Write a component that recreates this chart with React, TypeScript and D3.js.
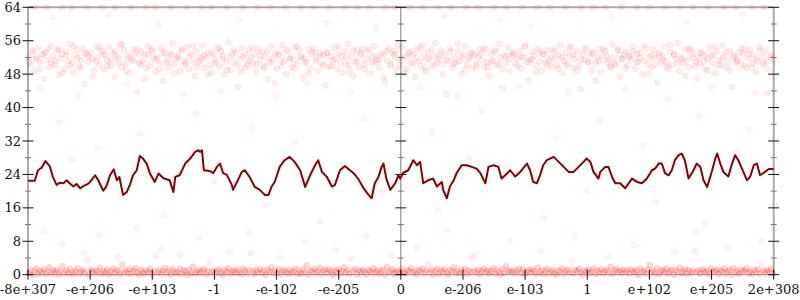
import React from "react";
import * as d3 from "d3";

// x-axis tick labels (symmetric float-bit scale), positions -6..6
const tickLabels = ["-8e+307", "-e+206", "-e+103", "-1", "-e-102", "-e-205", "0", "e-206", "e-103", "1", "e+102", "e+205", "2e+308"];
const tickPos = [-6, -5, -4, -3, -2, -1, 0, 1, 2, 3, 4, 5, 6];
const yMajor = [0, 8, 16, 24, 32, 40, 48, 56, 64];
const yMinor = [4, 12, 20, 28, 36, 44, 52, 60];

// moving average line: [position, value]
const avgLine: [number, number][] = [
  [-6.0, 22.5], [-5.89, 22.5], [-5.84, 25], [-5.78, 25.6], [-5.72, 27.2], [-5.65, 26], [-5.6, 23.4], [-5.54, 21.5], [-5.49, 22], [-5.43, 21.9], [-5.38, 22.6],
  [-5.33, 21.9], [-5.27, 21.1], [-5.22, 21.7], [-5.16, 20.7], [-5.11, 21.2], [-5.05, 21.6], [-5.0, 22.2], [-4.92, 23.8], [-4.87, 22.6], [-4.79, 20.1], [-4.74, 21.1],
  [-4.68, 23.8], [-4.62, 25.2], [-4.57, 22.6], [-4.53, 23.4], [-4.47, 19.1], [-4.41, 19.8], [-4.36, 21.5], [-4.31, 23.8], [-4.25, 25], [-4.2, 28.4],
  [-4.15, 27.8], [-4.09, 26.6], [-4.04, 24.3], [-3.96, 22.2], [-3.9, 24.2], [-3.82, 23.1], [-3.72, 22.6], [-3.66, 19.8], [-3.63, 23.4], [-3.56, 23.8],
  [-3.47, 26.6], [-3.39, 27.8], [-3.31, 29.4], [-3.26, 29.8], [-3.23, 29.4], [-3.2, 29.8], [-3.17, 25], [-3.07, 24.8], [-3.02, 24.3], [-2.96, 25.8],
  [-2.91, 26.6], [-2.86, 24.3], [-2.8, 23.9], [-2.72, 21.5], [-2.7, 20.3], [-2.62, 22.7], [-2.56, 24.6], [-2.51, 25], [-2.43, 23.3], [-2.35, 21],
  [-2.27, 20.3], [-2.19, 19.1], [-2.13, 19.1], [-2.08, 21.1], [-2.03, 22.2], [-1.95, 25.8], [-1.87, 27.4], [-1.79, 28.2], [-1.71, 27], [-1.62, 25],
  [-1.54, 21], [-1.46, 23.8], [-1.38, 26.2], [-1.33, 27.4], [-1.27, 24.6], [-1.19, 23.4], [-1.11, 21.1], [-1.06, 21.5], [-0.98, 25], [-0.9, 26],
  [-0.82, 25], [-0.76, 24.3], [-0.68, 22.8], [-0.6, 20.7], [-0.52, 19.1], [-0.47, 18.3], [-0.42, 21.9], [-0.36, 23.4], [-0.31, 25.8], [-0.28, 26.6],
  [-0.23, 22.8], [-0.17, 20.3], [-0.09, 21.9], [-0.04, 23.8], [-0.01, 23], [0.04, 24.4], [0.12, 25], [0.2, 27.4], [0.26, 26.2], [0.31, 27],
  [0.36, 21.9], [0.44, 22.6], [0.52, 23], [0.58, 21.1], [0.66, 22.2], [0.68, 20.3], [0.74, 18.3], [0.79, 21.1], [0.85, 22.6], [0.9, 24.4],
  [0.98, 26.2], [1.06, 26.2], [1.14, 25.8], [1.22, 25.4], [1.28, 24.3], [1.36, 21.9], [1.41, 25.8], [1.49, 26.2], [1.57, 25.8], [1.62, 23],
  [1.68, 23.8], [1.76, 25], [1.84, 23.5], [1.92, 24.6], [2.03, 26.6], [2.08, 25], [2.13, 22.2], [2.19, 21.9], [2.24, 23.8], [2.29, 26.2],
  [2.35, 27.4], [2.46, 28.2], [2.54, 27], [2.62, 25.8], [2.7, 24.6], [2.78, 24.6], [2.86, 25.8], [2.94, 27], [2.99, 27.8], [3.05, 27],
  [3.1, 24.6], [3.18, 23], [3.21, 24.6], [3.29, 25.8], [3.34, 25.8], [3.4, 23.4], [3.45, 21.9], [3.53, 21.9], [3.61, 20.7], [3.72, 23],
  [3.8, 22.2], [3.88, 21.9], [3.96, 23], [4.04, 25], [4.09, 25.4], [4.15, 26.6], [4.2, 26.6], [4.25, 24.3], [4.31, 23.8], [4.36, 25],
  [4.41, 27.4], [4.47, 28.6], [4.52, 29], [4.57, 27.4], [4.63, 23], [4.71, 25], [4.76, 26.6], [4.82, 25.8], [4.87, 22.6], [4.93, 21],
  [5.01, 25], [5.06, 27.8], [5.09, 29], [5.14, 26.6], [5.19, 24.6], [5.27, 23.5], [5.33, 26.6], [5.38, 28.6], [5.43, 27.4], [5.49, 25.4],
  [5.57, 22.6], [5.62, 23.4], [5.68, 26.2], [5.73, 26.6], [5.78, 23.8], [5.86, 24.6], [5.92, 25.3], [6.0, 25.3],
];

// dense cluster near 52 (spread evenly along x)
const upperBand = [
  52.1,50.4,53.6,48.7,51.9,54.3,50.8,52.7,46.9,53.2,51.4,49.6,54.8,52.3,50.2,53.9,47.8,51.6,52.9,49.3,
  53.4,51.1,55.2,50.6,48.4,52.5,53.8,49.9,51.3,54.1,45.6,52.8,50.9,53.1,51.7,48.9,54.6,52.0,50.3,53.5,
  49.1,52.6,51.2,54.4,50.0,53.0,47.2,52.2,51.8,55.1,49.7,53.7,50.5,52.4,48.1,51.5,54.0,52.9,43.8,50.7,
  53.3,51.0,52.7,49.4,54.7,50.1,53.6,51.9,48.6,52.1,50.8,54.2,46.3,53.0,51.4,49.8,52.5,55.4,50.4,51.7,
  52.3,48.8,53.9,51.2,50.6,54.5,49.2,52.8,51.1,47.5,53.4,50.9,52.0,54.9,49.5,51.8,53.2,50.2,48.3,52.6,
  51.3,54.1,50.0,53.5,52.4,47.9,51.0,55.6,49.0,52.9,50.7,53.1,44.9,51.6,54.3,52.2,49.6,50.3,53.8,51.9,
  50.5,52.7,48.5,54.0,51.4,53.3,49.9,52.1,46.7,50.8,54.8,51.7,53.0,49.3,52.5,50.1,55.0,51.2,48.0,53.6,
  52.0,49.7,51.5,54.6,50.4,53.7,52.3,47.1,51.8,50.9,53.9,49.4,52.8,54.2,51.1,48.8,53.2,50.6,52.6,45.3,
  53.1,50.0,52.4,51.3,54.4,49.1,52.9,50.7,48.4,53.5,51.9,55.3,50.2,52.2,47.6,51.0,53.8,49.8,52.7,54.0,
  50.3,51.6,53.4,48.2,52.0,54.7,50.8,51.4,49.5,53.0,52.5,46.1,51.2,54.1,50.5,52.8,53.6,49.0,51.7,50.1,
  54.5,52.3,49.2,51.9,53.3,50.6,52.6,47.3,53.9,51.0,50.0,54.9,52.1,48.7,53.2,51.5,49.9,52.4,55.5,50.9,
  51.8,53.7,50.4,52.9,43.2,51.3,54.2,49.6,52.0,50.7,53.5,51.1,48.1,52.7,54.6,50.2,51.6,53.0,49.4,52.5,
  50.0,52.2,54.0,51.4,49.7,53.8,50.8,47.7,52.8,51.2,53.4,50.3,55.2,51.9,49.1,52.3,50.6,54.4,48.6,53.1,
  52.6,50.5,51.7,53.6,49.3,52.1,54.8,50.9,46.5,51.5,53.3,52.4,50.1,54.1,51.0,48.9,52.9,50.7,53.7,51.3,
  49.8,53.9,51.8,50.2,52.5,55.0,48.3,51.1,53.0,50.4,52.2,54.5,49.5,51.6,53.5,50.0,44.4,52.7,51.4,54.3,
  51.0,52.8,49.0,53.2,50.6,51.9,54.0,48.5,52.3,53.6,50.8,51.3,49.9,55.1,52.0,50.3,53.8,47.4,51.7,52.6,
  53.4,50.1,52.4,51.5,54.7,49.2,52.9,50.9,53.1,48.0,51.2,54.2,50.5,52.1,49.6,53.7,51.8,46.0,52.5,50.7,
  52.2,54.6,51.0,49.4,53.3,50.2,52.7,51.6,55.4,48.8,52.0,50.6,53.9,51.3,49.7,54.1,52.8,50.0,47.0,51.9,
  50.4,53.0,52.3,49.1,51.7,54.4,50.8,52.6,48.2,53.5,51.4,50.1,54.8,52.4,49.8,51.1,53.6,45.0,52.1,50.9,
  51.5,53.2,50.3,52.9,54.0,49.5,51.8,53.8,50.6,52.5,48.6,51.0,54.5,52.2,50.0,53.4,51.3,49.0,52.7,51.6,
];

// second pass of the cluster near 52 (spread evenly along x)
const upperBand2 = [
  50.9,53.3,51.6,49.2,52.8,54.1,50.5,51.2,53.7,48.3,52.4,50.1,54.6,51.8,49.5,53.0,52.2,47.4,51.0,54.4,
  52.7,49.9,51.4,53.5,50.6,55.1,48.9,52.0,51.1,53.8,50.2,46.8,52.6,54.0,51.5,49.3,53.2,50.8,52.9,48.1,
  51.9,53.6,50.3,52.3,54.8,49.7,51.3,52.5,47.9,53.1,50.7,54.3,51.7,49.0,52.1,53.9,50.0,48.6,52.8,51.2,
  54.2,50.4,52.5,49.6,53.4,51.0,45.9,52.7,50.9,53.8,51.6,49.4,54.5,52.0,50.6,48.2,53.3,51.8,52.4,50.1,
  53.0,49.8,51.5,54.7,52.2,50.3,48.7,53.6,51.1,52.9,49.2,54.0,50.7,52.3,51.4,47.2,53.5,50.0,52.6,54.9,
  51.2,48.4,53.1,50.8,52.0,54.4,49.5,51.7,53.9,50.2,52.5,48.0,51.3,53.4,50.5,55.3,52.1,49.1,51.9,53.2,
  50.6,52.8,54.1,49.7,51.0,53.7,50.4,44.6,52.4,51.6,53.0,49.9,52.2,54.6,50.9,51.5,48.5,53.3,52.7,50.3,
  52.0,53.5,49.3,51.8,50.1,54.3,52.6,48.8,51.4,53.8,50.7,52.9,46.4,51.1,54.0,52.3,49.6,50.5,53.6,51.7,
  49.4,52.1,53.4,50.8,51.9,54.8,48.1,52.5,50.2,53.1,51.3,49.8,55.0,52.7,50.6,51.6,47.6,53.9,52.0,50.9,
  53.2,51.0,49.0,52.4,54.5,50.3,51.8,53.3,48.9,52.6,51.2,54.2,50.0,52.8,49.5,51.5,53.7,50.7,43.5,52.2,
];

// dense cluster near 0 (spread evenly along x)
const lowerBand = [
  0.4,1.1,0.0,0.8,1.5,0.2,0.9,0.6,1.3,0.1,0.7,1.8,0.3,1.0,0.5,1.2,0.0,0.8,2.1,0.4,
  1.0,0.3,1.4,0.6,0.1,0.9,1.6,0.2,0.7,1.1,0.5,3.4,0.0,1.3,0.8,0.4,1.0,0.6,1.7,0.2,
  0.9,0.5,1.2,0.0,0.7,1.5,0.3,1.1,0.8,0.1,2.4,0.6,1.0,0.4,1.3,0.2,0.9,1.6,0.5,0.0,
  1.2,0.7,0.3,1.0,0.6,1.4,0.1,0.8,4.6,0.5,1.1,0.2,0.9,1.7,0.4,1.0,0.0,1.3,0.7,0.3,
  0.6,1.5,0.2,1.0,0.8,0.0,1.2,0.5,1.9,0.3,0.7,1.1,0.4,0.9,1.4,0.1,0.8,2.8,0.6,1.0,
  0.3,0.9,1.3,0.5,0.0,1.1,0.7,1.6,0.2,0.8,1.0,0.4,1.2,0.6,0.1,1.5,0.9,0.3,1.1,5.2,
  0.8,0.2,1.0,0.6,1.4,0.4,0.9,0.0,1.2,0.7,1.8,0.3,1.0,0.5,1.3,0.1,0.8,1.1,0.6,0.2,
  1.1,0.5,0.8,1.5,0.1,0.9,0.3,1.2,0.6,2.2,0.0,1.0,0.7,1.4,0.4,0.8,1.6,0.2,0.9,1.3,
  0.4,1.2,0.7,0.0,1.0,0.6,1.3,0.2,0.9,1.7,0.5,1.1,0.3,3.9,0.8,1.4,0.1,1.0,0.6,1.2,
  0.7,0.1,1.1,0.9,0.4,1.5,0.6,1.0,0.3,0.8,1.2,0.0,1.9,0.5,0.9,1.3,0.2,0.7,1.0,0.4,
  1.3,0.6,0.2,1.0,0.8,1.6,0.4,0.9,0.1,1.1,0.7,1.4,0.3,1.0,2.6,0.5,1.2,0.0,0.8,1.5,
  0.2,1.0,0.7,1.3,0.5,0.0,1.1,0.8,1.8,0.4,0.9,0.3,1.2,0.6,1.5,0.1,1.0,0.7,4.1,0.9,
  0.5,1.2,0.1,0.8,1.4,0.6,1.0,0.3,0.9,1.6,0.2,1.1,0.7,0.0,1.3,0.4,2.0,0.8,1.0,0.6,
  1.0,0.3,0.9,1.5,0.4,1.2,0.0,0.7,1.1,0.5,1.3,0.8,0.2,1.7,0.6,1.0,0.1,0.9,1.4,0.3,
  0.8,1.1,0.4,0.0,1.0,0.7,1.5,0.2,0.9,1.2,0.6,3.1,0.3,1.1,0.8,1.4,0.5,0.0,1.0,0.7,
  1.2,0.4,0.9,1.6,0.1,1.0,0.6,1.3,0.3,0.8,1.1,0.5,1.9,0.2,0.9,1.4,0.7,1.0,0.4,1.2,
  0.6,1.0,0.2,1.3,0.8,0.5,1.1,0.0,1.5,0.7,0.9,0.3,1.2,2.3,0.6,1.0,0.4,1.6,0.1,0.8,
  1.1,0.7,1.4,0.3,0.9,1.2,0.0,1.0,0.6,1.7,0.4,0.8,1.3,0.2,1.1,0.5,0.9,5.7,0.7,1.0,
  0.3,1.3,0.8,0.5,1.0,0.1,1.4,0.6,0.9,1.2,0.2,1.0,0.7,1.5,0.4,0.8,1.1,0.0,1.6,0.6,
  0.9,0.2,1.2,0.7,1.0,1.5,0.4,0.8,0.1,1.1,0.6,1.3,0.3,2.7,0.9,0.5,1.0,0.7,1.4,0.2,
];

// points sitting at the 64 ceiling (positions)
const topRow = [
  -5.9,-5.7,-5.45,-5.3,-5.05,-4.8,-4.6,-4.35,-4.1,-3.95,-3.7,-3.45,-3.2,-3.05,-2.8,-2.55,-2.3,-2.1,-1.85,-1.6,
  -1.4,-1.15,-0.9,-0.7,-0.5,-0.25,-0.1,0.15,0.35,0.6,0.8,1.05,1.25,1.5,1.7,1.95,2.2,2.4,2.65,2.9,3.1,3.3,3.55,
  3.8,4.0,4.25,4.5,4.7,4.95,5.2,5.4,5.65,5.85,
];

// sparse scattered points [position, value]
const scatter: [number, number][] = [
  [-5.6,61.5],[-4.7,62.2],[-3.9,59.8],[-2.6,61.0],[-1.2,60.3],[0.7,62.0],[2.1,59.5],[3.4,61.8],[4.6,60.6],[5.5,62.4],[-0.4,58.9],[1.6,60.9],
  [-5.8,44.6],[-5.2,42.8],[-4.4,45.5],[-3.5,43.2],[-2.9,44.1],[-2.0,42.3],[-1.5,45.8],[-0.8,43.6],[0.3,44.9],[0.9,42.7],[1.9,45.2],[2.7,43.9],[3.6,44.4],[4.3,42.1],[5.0,45.0],[5.7,43.4],
  [-5.5,36.5],[-4.9,30.2],[-4.2,33.8],[-3.3,38.7],[-2.4,35.1],[-1.7,31.9],[-0.6,37.4],[0.5,34.0],[1.3,39.2],[2.5,32.6],[3.2,36.8],[3.9,30.9],[4.8,38.1],[5.6,34.7],
  [-5.3,27.6],[-4.5,18.9],[-3.8,14.2],[-3.0,22.5],[-2.2,16.7],[-1.3,12.8],[-0.3,19.6],[0.6,15.3],[1.1,27.9],[2.3,13.5],[3.0,20.1],[4.1,17.4],[4.9,12.2],[5.4,29.3],
  [-5.75,10.4],[-5.45,7.3],[-5.1,5.2],[-4.85,9.6],[-4.55,4.4],[-4.25,11.1],[-3.85,6.1],[-3.55,4.8],[-3.25,8.9],[-2.75,5.5],[-2.45,10.0],[-1.95,4.1],[-1.55,7.8],[-1.05,5.9],[-0.55,9.2],[-0.15,4.6],[0.25,6.6],[0.75,10.7],[1.2,4.9],[1.75,8.2],[2.25,5.7],[2.8,9.4],[3.35,4.3],[3.75,7.1],[4.4,5.3],[4.75,10.2],[5.25,6.4],[5.8,8.0],
];

const W = 800;
const H = 300;
const FONT = "'DejaVu Serif', serif";

export default function App() {
  const x = d3.scaleLinear().domain([-6, 6]).range([28, 773.7]);
  const y = d3.scaleLinear().domain([0, 64]).range([274.7, 7.3]);
  const [x0, x1] = x.range();
  const [yb, yt] = y.range();

  const spread = (i: number, n: number, off: number) => -6 + (12 * (i + off)) / n;

  type P = { u: number; v: number; fo: number; so: number };
  const pts: P[] = [];
  upperBand.forEach((v, i) => pts.push({ u: spread(i, upperBand.length, 0.5), v, fo: 0.07, so: 0.06 }));
  upperBand2.forEach((v, i) => pts.push({ u: spread(i, upperBand2.length, 0.25), v, fo: 0.07, so: 0.06 }));
  lowerBand.forEach((v, i) => pts.push({ u: spread(i, lowerBand.length, 0.5), v, fo: v < 2.5 ? 0.16 : 0.06, so: v < 2.5 ? 0.08 : 0.05 }));
  topRow.forEach((u) => pts.push({ u, v: 64, fo: 0.08, so: 0.06 }));
  scatter.forEach((p) => pts.push({ u: p[0], v: p[1], fo: 0.045, so: 0.04 }));

  const line = d3
    .line<[number, number]>()
    .x((d) => x(d[0]))
    .y((d) => y(d[1]));

  const axesX = [x(-6), x(0), x(6)];

  return (
    <div style={{ position: "fixed", left: 0, top: 0 }}>
      <svg width={W} height={H} style={{ display: "block", background: "#fff" }}>
        {/* frame */}
        <line x1={x0} x2={x1} y1={yt} y2={yt} stroke="#aaa" strokeWidth={2} />
        <line x1={x0} x2={x1} y1={yb} y2={yb} stroke="#999" strokeWidth={1} />
        <line x1={x0} x2={x0} y1={yt} y2={yb} stroke="#aaa" strokeWidth={2} />
        <line x1={x1} x2={x1} y1={yt} y2={yb} stroke="#aaa" strokeWidth={2} />
        <line x1={x(0)} x2={x(0)} y1={yt} y2={yb} stroke="#777" strokeWidth={1} />

        {/* points */}
        <g>
          {pts.map((p, i) => (
            <circle
              key={i}
              cx={x(p.u)}
              cy={y(p.v)}
              r={3}
              fill="red"
              fillOpacity={p.fo}
              stroke="red"
              strokeOpacity={p.so}
              strokeWidth={1}
            />
          ))}
        </g>

        {/* y ticks on the three vertical axes */}
        {axesX.map((ax, k) => (
          <g key={"ax" + k}>
            {yMinor.map((v) => (
              <line key={"mi" + v} x1={ax - 3} x2={ax + 3} y1={y(v)} y2={y(v)} stroke="#777" strokeWidth={1} />
            ))}
            {yMajor.map((v) => (
              <line key={"ma" + v} x1={ax - 5.5} x2={ax + 5.5} y1={y(v)} y2={y(v)} stroke="#111" strokeWidth={1} />
            ))}
          </g>
        ))}

        {/* y labels */}
        {yMajor.map((v) => (
          <text
            key={"yl" + v}
            x={x0 - 7}
            y={y(v)}
            textAnchor="end"
            dominantBaseline="central"
            fontFamily={FONT}
            fontSize={13}
            fill="#111"
          >
            {v}
          </text>
        ))}

        {/* x ticks and labels */}
        {tickPos.map((u, i) => (
          <g key={"xt" + i}>
            <line x1={x(u)} x2={x(u)} y1={yb - 5} y2={yb + 5} stroke="#111" strokeWidth={1} />
            <text
              x={x(u)}
              y={yb + 19}
              textAnchor="middle"
              fontFamily={FONT}
              fontSize={13}
              fill="#111"
            >
              {tickLabels[i]}
            </text>
          </g>
        ))}

        {/* moving average */}
        <path d={line(avgLine) || ""} fill="none" stroke="#8b0000" strokeWidth={2} strokeLinejoin="round" />
      </svg>
    </div>
  );
}
